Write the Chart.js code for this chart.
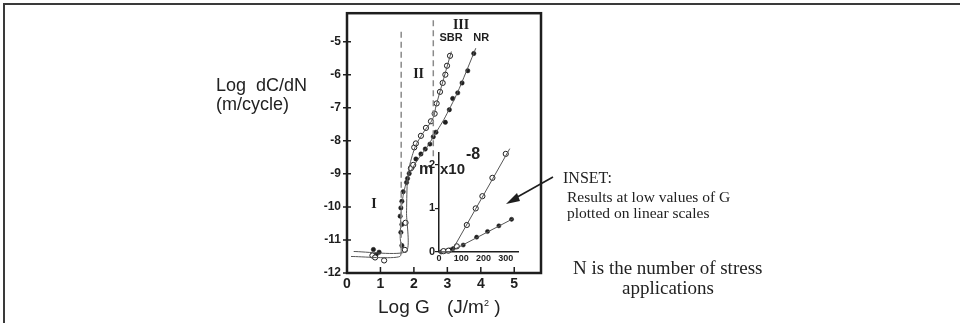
<!DOCTYPE html>
<html>
<head>
<meta charset="utf-8">
<script src="https://cdn.jsdelivr.net/npm/chart.js@4"></script>
<style>
  body { margin: 0; background: #fff; }
  #wrap { position: relative; width: 960px; height: 323px; overflow: hidden; }
  canvas { position: absolute; }
  .t { position: absolute; white-space: nowrap; color: #222; }
  .sans { font-family: "Liberation Sans", Arial, sans-serif; }
  .serif { font-family: "Liberation Serif", "Times New Roman", serif; }
</style>
</head>
<body>
<div id="wrap">
  <canvas id="main" width="960" height="323" style="left:0;top:0"></canvas>
  <canvas id="inset" width="130" height="135" style="left:400px;top:140px"></canvas>

  <div class="t sans" style="left:216px;top:75px;font-size:18px">Log&nbsp;&nbsp;dC/dN</div>
  <div class="t sans" style="left:216px;top:94px;font-size:18px">(m/cycle)</div>
  <div class="t sans" style="left:378px;top:296px;font-size:19px">Log G</div>
  <div class="t sans" style="left:447px;top:296px;font-size:19px">(J/m<sup style="font-size:9px">2</sup>&nbsp;)</div>

  <div class="t sans" style="left:419px;top:160px;font-size:16px;font-weight:bold">m</div>
  <div class="t sans" style="left:440px;top:160px;font-size:15px;font-weight:bold">x10</div>
  <div class="t sans" style="left:466px;top:145px;font-size:16px;font-weight:bold">-8</div>

  <div class="t serif" style="left:563px;top:169px;font-size:16px">INSET:</div>
  <div class="t serif" style="left:567px;top:188px;font-size:15.5px">Results at low values of G</div>
  <div class="t serif" style="left:567px;top:204px;font-size:15.5px">plotted on linear scales</div>
  <div class="t serif" style="left:573px;top:257px;font-size:19px">N is the number of stress</div>
  <div class="t serif" style="left:622px;top:277px;font-size:19px">applications</div>
</div>

<script>
// main plot: log crack growth rate vs log tearing energy
const xTicks = [0, 1, 2, 3, 4, 5];
const yTicks = [-12, -11, -10, -9, -8, -7, -6, -5];

// SBR (open circles)
const sbrG    = [0.76, 0.84, 1.11, 1.73, 1.75, 1.91, 1.98, 2.01, 2.06, 2.21, 2.36, 2.51, 2.62, 2.68, 2.78, 2.86, 2.94, 2.99, 3.08];
const sbrRate = [-11.47, -11.53, -11.62, -11.3, -10.48, -8.83, -8.73, -8.2, -8.08, -7.85, -7.61, -7.41, -7.18, -6.87, -6.52, -6.25, -6.0, -5.73, -5.43];
// NR (filled dots)
const nrG    = [0.79, 0.87, 0.96, 1.64, 1.61, 1.64, 1.59, 1.61, 1.64, 1.68, 1.78, 1.81, 1.86, 1.95, 2.06, 2.21, 2.34, 2.48, 2.58, 2.66, 2.94, 3.06, 3.16, 3.31, 3.44, 3.61, 3.79];
const nrRate = [-11.29, -11.45, -11.37, -11.17, -10.77, -10.53, -10.28, -10.03, -9.83, -9.54, -9.26, -9.14, -8.99, -8.8, -8.55, -8.4, -8.25, -8.1, -7.88, -7.74, -7.44, -7.06, -6.72, -6.55, -6.25, -5.88, -5.36];

// drawn trend lines
const sbrFitG    = [0.2, 1.77, 1.78, 1.8, 1.86, 1.95, 2.05, 2.2, 2.35, 2.5, 2.6, 2.66, 3.12];
const sbrFitRate = [-11.35, -11.35, -10.2, -9.3, -8.8, -8.45, -8.15, -7.88, -7.65, -7.45, -7.25, -6.95, -5.3];
const nrFitG    = [0.12, 1.58, 1.59, 1.62, 1.68, 1.76, 1.86, 2.0, 2.2, 2.4, 2.6, 2.9, 3.3, 3.85];
const nrFitRate = [-11.5, -11.5, -10.9, -10.1, -9.65, -9.3, -9.02, -8.75, -8.45, -8.18, -7.85, -7.35, -6.55, -5.2];

// region boundaries (dashed)
const bound1G = [1.62, 1.62], bound1Rate = [-4.7, -11.3];
const bound2G = [2.58, 2.58], bound2Rate = [-4.35, -8.55];

// inset: linear scales
const insetXTicks = [0, 100, 200, 300];
const insetYTicks = [0, 1, 2];
const inSbrG    = [20, 42, 80, 125, 165, 195, 240, 300];
const inSbrRate = [0.02, 0.03, 0.13, 0.62, 1.0, 1.28, 1.7, 2.25];
const inNrG    = [10, 28, 50, 64, 109, 169, 218, 269, 326];
const inNrRate = [0.0, 0.02, 0.05, 0.08, 0.16, 0.34, 0.47, 0.6, 0.75];
const inSbrFitG = [0, 55, 318], inSbrFitRate = [0, 0, 2.37];
const inNrFitG  = [0, 50, 335], inNrFitRate  = [0, 0.01, 0.77];

const pts = (xs, ys) => xs.map((v, i) => ({ x: v, y: ys[i] }));
const ink = '#1e1e1e';

const mainDecor = {
  id: 'mainDecor',
  afterDraw(chart) {
    const { ctx, chartArea: a, scales: { x, y } } = chart;
    ctx.save();
    // page border (top and left)
    ctx.strokeStyle = '#3a3a3a';
    ctx.lineWidth = 2;
    ctx.beginPath();
    ctx.moveTo(4, 323); ctx.lineTo(4, 4); ctx.lineTo(960, 4);
    ctx.stroke();
    // plot box
    ctx.strokeStyle = ink;
    ctx.lineWidth = 2.5;
    ctx.strokeRect(a.left, a.top, a.right - a.left, a.bottom - a.top);
    // tick marks
    ctx.lineWidth = 1.5;
    ctx.beginPath();
    xTicks.forEach(v => {
      const px = x.getPixelForValue(v);
      ctx.moveTo(px, a.bottom); ctx.lineTo(px, a.bottom - 6);
    });
    yTicks.forEach(v => {
      const py = y.getPixelForValue(v);
      ctx.moveTo(a.left - 4, py); ctx.lineTo(a.left + 4, py);
    });
    ctx.stroke();
    // region and material labels
    ctx.fillStyle = ink;
    ctx.textAlign = 'center';
    ctx.textBaseline = 'middle';
    ctx.font = 'bold 14px "Liberation Serif"';
    [['I', 0.81, -9.92], ['II', 2.14, -6.0], ['III', 3.41, -4.5]].forEach(([s, g, r]) => {
      ctx.fillText(s, x.getPixelForValue(g), y.getPixelForValue(r));
    });
    ctx.font = 'bold 11px "Liberation Sans"';
    [['SBR', 3.11, -4.9], ['NR', 4.01, -4.9]].forEach(([s, g, r]) => {
      ctx.fillText(s, x.getPixelForValue(g), y.getPixelForValue(r));
    });
    // arrow pointing at the inset
    ctx.strokeStyle = ink;
    ctx.lineWidth = 1.6;
    ctx.beginPath();
    ctx.moveTo(553, 177); ctx.lineTo(512, 200);
    ctx.stroke();
    ctx.beginPath();
    ctx.moveTo(506, 204); ctx.lineTo(517, 193); ctx.lineTo(520, 201);
    ctx.closePath();
    ctx.fill();
    ctx.restore();
  }
};

new Chart(document.getElementById('main'), {
  type: 'scatter',
  data: {
    datasets: [
      { data: pts(bound1G, bound1Rate), showLine: true, pointRadius: 0, borderColor: '#8a8a8a', borderWidth: 1.5, borderDash: [6, 4] },
      { data: pts(bound2G, bound2Rate), showLine: true, pointRadius: 0, borderColor: '#8a8a8a', borderWidth: 1.5, borderDash: [6, 4] },
      { data: pts(sbrFitG, sbrFitRate), showLine: true, pointRadius: 0, borderColor: '#555', borderWidth: 1, tension: 0.2 },
      { data: pts(nrFitG, nrFitRate), showLine: true, pointRadius: 0, borderColor: '#555', borderWidth: 1, tension: 0.2 },
      { label: 'SBR', data: pts(sbrG, sbrRate), pointRadius: 2.6, pointBackgroundColor: '#fff', pointBorderColor: ink, pointBorderWidth: 1 },
      { label: 'NR', data: pts(nrG, nrRate), pointRadius: 2.2, pointBackgroundColor: ink, pointBorderColor: ink, pointBorderWidth: 0.5 }
    ]
  },
  options: {
    responsive: false,
    animation: false,
    events: [],
    layout: { padding: { left: 307, right: 419, top: 8, bottom: 20 } },
    plugins: { legend: { display: false }, tooltip: { enabled: false } },
    scales: {
      x: {
        type: 'linear', min: 0, max: 5.8,
        grid: { display: false, drawTicks: false }, border: { display: false },
        afterBuildTicks: s => { s.ticks = xTicks.map(v => ({ value: v })); },
        afterFit: s => { s.height = 30; },
        ticks: { color: ink, padding: 3, font: { family: 'Liberation Sans', size: 14, weight: 'bold' } }
      },
      y: {
        type: 'linear', min: -12, max: -4.14,
        grid: { display: false, drawTicks: false }, border: { display: false },
        afterBuildTicks: s => { s.ticks = yTicks.map(v => ({ value: v })); },
        afterFit: s => { s.width = 40; },
        ticks: { color: ink, padding: 6, font: { family: 'Liberation Sans', size: 12, weight: 'bold' } }
      }
    }
  },
  plugins: [mainDecor]
});

new Chart(document.getElementById('inset'), {
  type: 'scatter',
  data: {
    datasets: [
      { data: pts(inSbrFitG, inSbrFitRate), showLine: true, pointRadius: 0, borderColor: '#555', borderWidth: 1, clip: false },
      { data: pts(inNrFitG, inNrFitRate), showLine: true, pointRadius: 0, borderColor: '#555', borderWidth: 1, clip: false },
      { label: 'SBR', data: pts(inSbrG, inSbrRate), clip: false, pointRadius: 2.6, pointBackgroundColor: '#fff', pointBorderColor: ink, pointBorderWidth: 1 },
      { label: 'NR', data: pts(inNrG, inNrRate), clip: false, pointRadius: 2.1, pointBackgroundColor: ink, pointBorderColor: ink, pointBorderWidth: 0.5 }
    ]
  },
  options: {
    responsive: false,
    animation: false,
    events: [],
    layout: { padding: { left: 0, right: 12, top: 13, bottom: 0 } },
    plugins: { legend: { display: false }, tooltip: { enabled: false } },
    scales: {
      x: {
        type: 'linear', min: 0, max: 355,
        grid: { display: false, drawTicks: false }, border: { display: true, color: ink, width: 1.5 },
        afterBuildTicks: s => { s.ticks = insetXTicks.map(v => ({ value: v })); },
        afterFit: s => { s.height = 23; },
        ticks: { color: ink, padding: 1, font: { family: 'Liberation Sans', size: 9, weight: 'bold' } }
      },
      y: {
        type: 'linear', min: 0, max: 2.27,
        grid: { display: true, drawOnChartArea: false, drawTicks: true, tickLength: 4, color: ink, lineWidth: 1.2 },
        border: { display: true, color: ink, width: 1.5 },
        afterBuildTicks: s => { s.ticks = insetYTicks.map(v => ({ value: v })); },
        afterFit: s => { s.width = 39; },
        ticks: { color: ink, padding: 0, font: { family: 'Liberation Sans', size: 11, weight: 'bold' } }
      }
    }
  }
});
</script>
</body>
</html>
